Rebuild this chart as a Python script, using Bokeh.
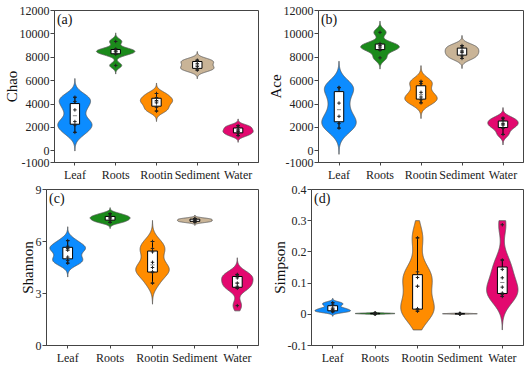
import numpy as np
from bokeh.plotting import figure
from bokeh.layouts import column, row
from bokeh.models import FixedTicker, Label
from bokeh.embed import file_html
from bokeh.resources import INLINE

categories = ["Leaf", "Roots", "Rootin", "Sediment", "Water"]
colors = ["#0C8CFF", "#1B8A1B", "#FF8C00", "#C9B497", "#E3096F"]

# Chao
chao_leaf = [1580, 2200, 2500, 3500, 4220, 4580]
chao_roots = [7300, 8250, 8450, 8550, 8700, 9350]
chao_rootin = [3400, 3720, 4100, 4300, 4560, 4900]
chao_sediment = [6900, 7000, 7200, 7450, 7700, 7750]
chao_water = [1300, 1500, 1650, 1800, 2000, 2150]
# Ace
ace_leaf = [1940, 2330, 2950, 4080, 5390, 5420]
ace_roots = [7950, 8610, 8800, 9000, 9170, 10130]
ace_rootin = [4100, 4360, 4600, 5000, 5750, 5940]
ace_sediment = [7900, 8110, 8400, 8550, 8860, 9000]
ace_water = [1400, 1920, 2200, 2350, 2610, 2800]
# Shannon
shannon_leaf = [4.75, 4.9, 5.1, 5.5, 5.6, 5.73, 6.05]
shannon_roots = [7.1, 7.21, 7.3, 7.4, 7.46, 7.6]
shannon_rootin = [3.6, 4.2, 4.25, 4.5, 4.8, 5.4, 5.6, 6.0]
shannon_sediment = [7.12, 7.15, 7.2, 7.25, 7.3, 7.33]
shannon_water = [2.3, 3.3, 3.42, 3.6, 3.9, 4.06, 4.1]
# Simpson
simpson_leaf = [0.008, 0.01, 0.015, 0.02, 0.03, 0.037]
simpson_roots = [0.001, 0.002, 0.002, 0.003, 0.003, 0.004]
simpson_rootin = [0.01, 0.015, 0.018, 0.09, 0.118, 0.136, 0.245]
simpson_sediment = [0.001, 0.001, 0.002, 0.002, 0.002, 0.003]
simpson_water = [0.057, 0.063, 0.068, 0.087, 0.117, 0.144, 0.174, 0.287]

# axis ticks
ticks_ab = [-1000, 0, 2000, 4000, 6000, 8000, 10000, 12000]
labels_ab = ["-1000", "0", "2000", "4000", "6000", "8000", "10000", "12000"]
ticks_c = [0, 3, 6, 9]
labels_c = ["0", "3", "6", "9"]
ticks_d = [-0.1, 0, 0.1, 0.2, 0.3, 0.4]
labels_d = ["-0.1", "0", "0.1", "0.2", "0.3", "0.4"]

# kernel bandwidths (style of the density estimate)
bw_a = [500, 230, 280, 230, 180]
bw_b = [700, 300, 420, 270, 280]
bw_c = [0.25, 0.11, 0.38, 0.06, 0.30]
bw_d = [0.0045, 0.0012, 0.04, 0.0008, 0.035]
violin_w = [0.84, 0.94, 0.79, 0.82, 0.74]

FONT = "Liberation Serif"


def kde(vals, bw, lo=None, hi=None, cut=3.2, n=240):
    v = np.asarray(vals, float)
    y0 = v.min() - cut * bw
    y1 = v.max() + cut * bw
    if lo is not None:
        y0 = max(y0, lo)
    if hi is not None:
        y1 = min(y1, hi)
    ys = np.linspace(y0, y1, n)
    d = np.exp(-0.5 * ((ys[:, None] - v[None, :]) / bw) ** 2).sum(1)
    return ys, d / d.max()


def panel(groups, bws, ylab, letter, yr, ticks, labels, minor, clip,
          width, height, bl, bt, bb, br):
    p = figure(width=width, height=height, x_range=(0.5, 5.5), y_range=yr,
               output_backend="svg", toolbar_location=None,
               min_border_left=bl, min_border_top=bt, min_border_bottom=bb,
               min_border_right=br)
    p.xgrid.visible = False
    p.ygrid.visible = False
    p.outline_line_color = "#444444"
    p.outline_line_width = 1
    p.background_fill_color = "white"

    xs_all, ys_all = [], []
    for i, (vals, bw) in enumerate(zip(groups, bws)):
        x = i + 1
        ys, d = kde(vals, bw, clip[0], clip[1])
        hw = d * violin_w[i] / 2
        xs_all.append(np.concatenate([x + hw, (x - hw)[::-1]]))
        ys_all.append(np.concatenate([ys, ys[::-1]]))
    p.patches(xs_all, ys_all, fill_color=colors, line_color="#555555",
              line_width=0.8)

    bx, q1s, q3s, meds, lws, uws, px, py = [], [], [], [], [], [], [], []
    for i, vals in enumerate(groups):
        v = np.asarray(vals, float)
        q1, med, q3 = np.percentile(v, [25, 50, 75])
        iqr = q3 - q1
        lw = v[v >= q1 - 1.5 * iqr].min()
        uw = v[v <= q3 + 1.5 * iqr].max()
        bx.append(i + 1)
        q1s.append(q1); q3s.append(q3); meds.append(med)
        lws.append(lw); uws.append(uw)
        for val in v:
            px.append(i + 1); py.append(val)
    bx = np.array(bx, float)
    hb = 0.115
    p.segment(bx, q3s, bx, uws, line_color="black", line_width=1)
    p.segment(bx, q1s, bx, lws, line_color="black", line_width=1)
    p.segment(bx - 0.04, uws, bx + 0.04, uws, line_color="black", line_width=1)
    p.segment(bx - 0.04, lws, bx + 0.04, lws, line_color="black", line_width=1)
    p.quad(left=bx - hb, right=bx + hb, bottom=q1s, top=q3s,
           fill_color="white", line_color="black", line_width=1)
    p.segment(bx - 0.05, meds, bx + 0.05, meds, line_color="#888888", line_width=1)
    p.scatter(px, py, marker="cross", size=3.5, line_color="#222222", line_width=1)

    p.xaxis.ticker = FixedTicker(ticks=[1, 2, 3, 4, 5])
    p.xaxis.major_label_overrides = {i + 1: c for i, c in enumerate(categories)}
    p.xaxis.minor_tick_line_color = None
    p.xaxis.major_tick_out = 3
    p.xaxis.major_tick_in = 0
    p.xaxis.major_label_standoff = 2
    p.yaxis.ticker = FixedTicker(ticks=ticks, minor_ticks=minor)
    p.yaxis.major_label_overrides = {t: s for t, s in zip(ticks, labels)}
    p.yaxis.major_tick_out = 4
    p.yaxis.major_tick_in = 0
    p.yaxis.minor_tick_out = 2
    p.yaxis.minor_tick_in = 0
    p.yaxis.major_label_standoff = 1
    p.yaxis.axis_label = ylab
    p.yaxis.axis_label_standoff = -3
    p.yaxis.axis_label_text_font = FONT
    p.yaxis.axis_label_text_font_size = "15px"
    p.yaxis.axis_label_text_font_style = "normal"
    p.yaxis.axis_label_text_color = "#111111"
    for ax in (p.xaxis, p.yaxis):
        ax.axis_line_color = "#444444"
        ax.major_tick_line_color = "#444444"
        ax.minor_tick_line_color = "#444444" if ax is p.yaxis else None
        ax.major_label_text_font = FONT
        ax.major_label_text_color = "#222222"
    p.yaxis.major_label_text_font_size = "12px"
    p.xaxis.major_label_text_font_size = "12px"
    top = yr[1]
    span = yr[1] - yr[0]
    p.add_layout(Label(x=0.56, y=top - span * 0.01, text=letter,
                       text_font=FONT, text_font_size="14px",
                       text_baseline="top", text_color="#111111"))
    return p


minor_ab = list(range(-1000, 12001, 1000))
minor_c = [1.5, 4.5, 7.5]
minor_d = [-0.05, 0.05, 0.15, 0.25, 0.35]

pa = panel([chao_leaf, chao_roots, chao_rootin, chao_sediment, chao_water], bw_a,
           "Chao", "(a)", (-1000, 12000), ticks_ab, labels_ab, minor_ab, (None, None),
           264, 184, 46, 10, 18, 6)
pb = panel([ace_leaf, ace_roots, ace_rootin, ace_sediment, ace_water], bw_b,
           "Ace", "(b)", (-1000, 12000), ticks_ab, labels_ab, minor_ab, (None, None),
           265, 184, 47, 10, 18, 6)
pc = panel([shannon_leaf, shannon_roots, shannon_rootin, shannon_sediment, shannon_water], bw_c,
           "Shannon", "(c)", (0, 9), ticks_c, labels_c, minor_c, (2.0, None),
           264, 184, 46, 5, 23, 6)
pd_ = panel([simpson_leaf, simpson_roots, simpson_rootin, simpson_sediment, simpson_water], bw_d,
            "Simpson", "(d)", (-0.1, 0.4), ticks_d, labels_d, minor_d, (-0.05, 0.3),
            265, 184, 47, 5, 23, 6)

layout = column(row(pa, pb), row(pc, pd_))

open("out.html", "w").write(file_html(layout, INLINE))
